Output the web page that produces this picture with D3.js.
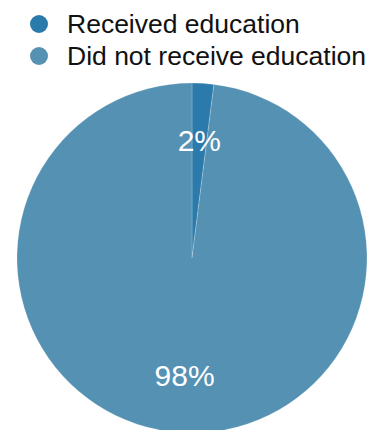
<!DOCTYPE html>
<html>
<head>
<meta charset="utf-8">
<script src="https://cdn.jsdelivr.net/npm/d3@7"></script>
<style>
  body { margin: 0; background: #fff; }
  text { font-family: "Liberation Sans", Arial, Helvetica, sans-serif; }
</style>
</head>
<body>
<script>
const categories = ['Received education', 'Did not receive education'];
const values = [2, 98];
const colors = ['#2a7aab', '#5591b2'];

const width = 379, height = 430;
const cx = 192, cy = 258, radius = 175;

const svg = d3.select('body').append('svg')
  .attr('width', width)
  .attr('height', height);

// legend
const legend = svg.append('g');
categories.forEach(function (name, i) {
  let row = legend.append('g').attr('transform', `translate(0,${24 + i * 32})`);
  row.append('circle')
    .attr('cx', 39)
    .attr('cy', 0)
    .attr('r', 9)
    .attr('fill', colors[i]);
  row.append('text')
    .attr('x', 67)
    .attr('y', 0)
    .attr('dy', '0.35em')
    .attr('font-size', 26.5)
    .attr('fill', '#111')
    .text(name);
});

const color = d3.scaleOrdinal().domain(categories).range(colors);

const pie = d3.pie().sort(null).value(d => d.value);
const data = pie(categories.map((c, i) => ({ name: c, value: values[i] })));

const arc = d3.arc().innerRadius(0).outerRadius(radius);
const labelArc = d3.arc().innerRadius(radius * 0.67).outerRadius(radius * 0.67);

const g = svg.append('g').attr('transform', `translate(${cx},${cy})`);

g.selectAll('path')
  .data(data)
  .join('path')
  .attr('d', arc)
  .attr('fill', d => color(d.data.name))
  .attr('stroke', 'rgba(255,255,255,0.35)')
  .attr('stroke-width', 0.6);

const total = d3.sum(values);
g.selectAll('text.label')
  .data(data)
  .join('text')
  .attr('class', 'label')
  .attr('transform', d => `translate(${labelArc.centroid(d)})`)
  .attr('text-anchor', 'middle')
  .attr('dy', '0.35em')
  .attr('font-size', 30)
  .attr('fill', '#fff')
  .text(d => Math.round(d.data.value / total * 100) + '%');
</script>
</body>
</html>
